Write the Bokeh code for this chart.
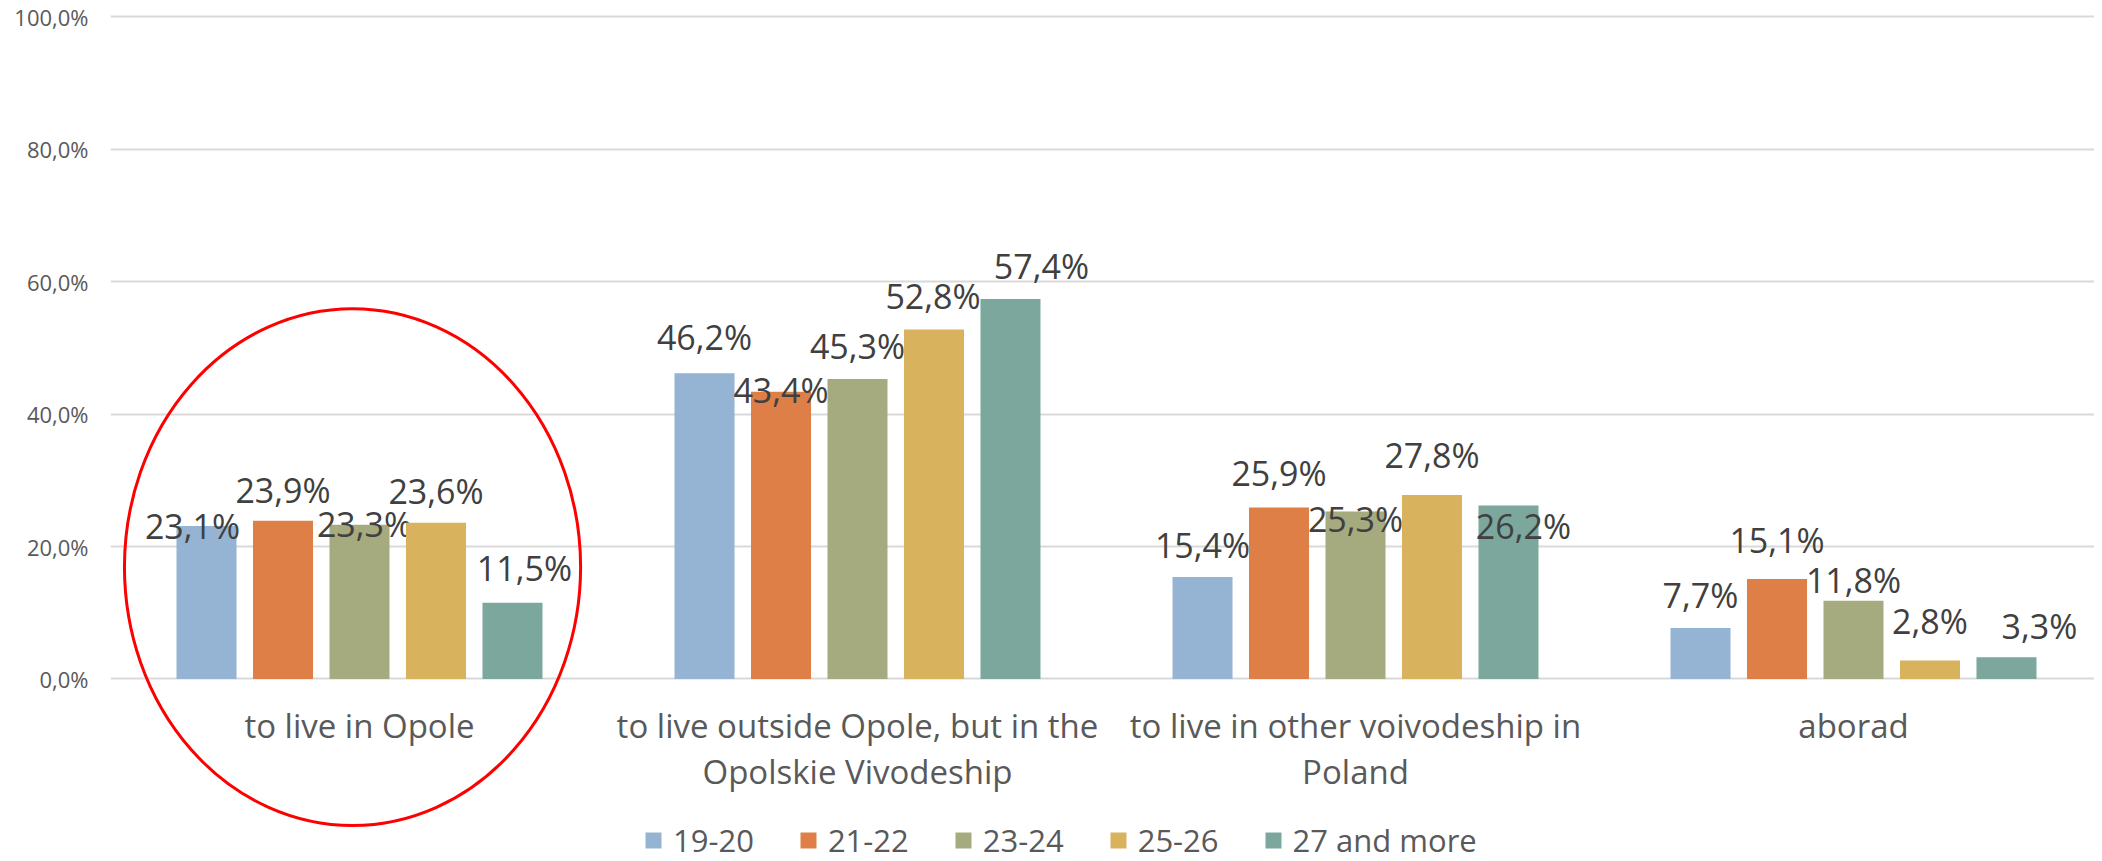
from bokeh.plotting import figure
from bokeh.models import Range1d, FixedTicker, Legend, LegendItem, ColumnDataSource
from bokeh.embed import file_html
from bokeh.resources import INLINE
from bokeh.core.properties import value

# ---- data ----
categories = [
    "to live in Opole",
    "to live outside Opole, but in the\nOpolskie Vivodeship",
    "to live in other voivodeship in\nPoland",
    "aborad",
]
series_names = ["19-20", "21-22", "23-24", "25-26", "27 and more"]
v_19_20 = [23.1, 46.2, 15.4, 7.7]
v_21_22 = [23.9, 43.4, 25.9, 15.1]
v_23_24 = [23.3, 45.3, 25.3, 11.8]
v_25_26 = [23.6, 52.8, 27.8, 2.8]
v_27_more = [11.5, 57.4, 26.2, 3.3]
series_values = [v_19_20, v_21_22, v_23_24, v_25_26, v_27_more]
y_ticks = [0, 20, 40, 60, 80, 100]
y_tick_labels = ["0,0%", "20,0%", "40,0%", "60,0%", "80,0%", "100,0%"]

# ---- styling ----
colors = ["#95B4D3", "#DE7F47", "#A5AA7F", "#D9B25E", "#7BA79C"]
# label placement tweaks (px) as in the original, per series per category
label_dy = [[-16, 20, 16, 17], [15, -14, 19, 23], [-15, 17, -24, 5], [16, 17, 24, 23], [19, 17, -36, 15]]
label_dx = [[-14, 0, 0, 0], [0, 0, 0, 0], [5, 0, 0, 0], [0, -1, 0, 0], [12, 31, 15, 33]]
baseline_fix = 16

pitch = 0.1536
bar_w = 0.1205
FONT = "Open Sans"

p = figure(width=2094, height=861, output_backend="svg", toolbar_location=None,
           x_range=Range1d(0, 1984 / 498), y_range=Range1d(-27.57, 101.28),
           min_border_left=110, min_border_right=0, min_border_top=8, min_border_bottom=0)
p.outline_line_color = None
p.xaxis.visible = False
p.xgrid.visible = False

p.yaxis.ticker = FixedTicker(ticks=y_ticks)
p.yaxis.major_label_overrides = {t: l for t, l in zip(y_ticks, y_tick_labels)}
p.yaxis.axis_line_color = None
p.yaxis.major_tick_line_color = None
p.yaxis.minor_tick_line_color = None
p.yaxis.major_tick_out = 0
p.yaxis.major_label_standoff = 22
p.yaxis.major_label_text_font = FONT
p.yaxis.major_label_text_font_size = "22px"
p.yaxis.major_label_text_color = "#595959"
p.ygrid.ticker = FixedTicker(ticks=y_ticks)
p.ygrid.grid_line_color = "#d9d9d9"
p.ygrid.grid_line_width = 2

items = []
for j, (name, vals) in enumerate(zip(series_names, series_values)):
    xs = [i + 0.5 + (j - 2) * pitch for i in range(len(categories))]
    src = ColumnDataSource(dict(
        x=xs, top=vals,
        lab=[f"{v:.1f}".replace(".", ",") + "%" for v in vals],
        dx=label_dx[j], dy=[-(d + baseline_fix) for d in label_dy[j]],
    ))
    r = p.vbar(x="x", top="top", width=bar_w, bottom=0, source=src,
               fill_color=colors[j], line_color=None)
    items.append(LegendItem(label=name, renderers=[r]))
    p.text(x="x", y="top", text="lab", x_offset="dx", y_offset="dy", source=src,
           text_align="center", text_baseline="alphabetic",
           text_font=value(FONT), text_font_size="34px", text_color="#404040")

# category labels
l1x, l1t, l2x, l2t = [], [], [], []
for i, c in enumerate(categories):
    parts = c.split("\n")
    l1x.append(i + 0.5); l1t.append(parts[0])
    if len(parts) > 1:
        l2x.append(i + 0.5); l2t.append(parts[1])
p.text(x=l1x, y=[-7.1] * len(l1x), text=l1t, text_align="center", text_baseline="middle",
       text_font=value(FONT), text_font_size="33px", text_color="#595959")
p.text(x=l2x, y=[-14.0] * len(l2x), text=l2t, text_align="center", text_baseline="middle",
       text_font=value(FONT), text_font_size="33px", text_color="#595959")

# red ellipse highlight around first category
p.ellipse(x=[0.486], y=[16.9], width=[0.916], height=[78.1], fill_color=None,
          line_color="#FF0000", line_width=3)

legend = Legend(items=items, orientation="horizontal", location=(533, 0),
                glyph_width=20, glyph_height=20, label_standoff=10, spacing=44,
                padding=0, margin=0, border_line_alpha=0, background_fill_alpha=0,
                label_text_font=FONT, label_text_font_size="31px", label_text_color="#595959")
p.add_layout(legend)

open("out.html", "w").write(file_html(p, INLINE))
